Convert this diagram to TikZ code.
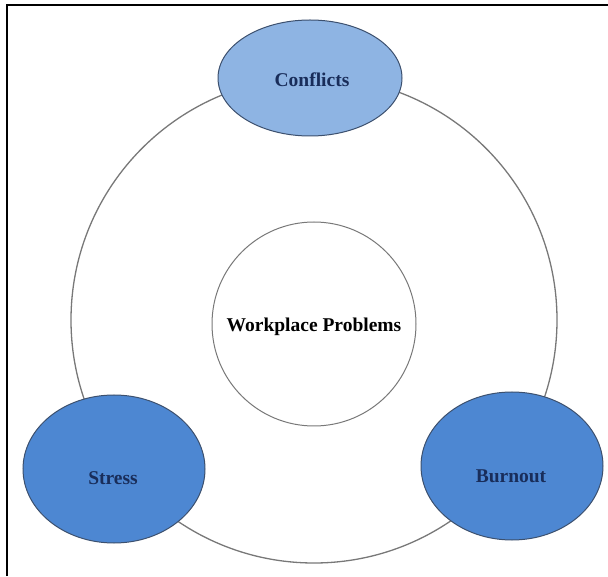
\documentclass[tikz,border=0pt]{standalone}
\usepackage{fontspec}
\setmainfont{Liberation Serif}
\usetikzlibrary{shapes.geometric}
\definecolor{lightblue}{RGB}{142,180,227}
\definecolor{midblue}{RGB}{77,135,210}
\definecolor{edgeblue}{RGB}{60,80,110}
\definecolor{navy}{RGB}{25,45,90}
\definecolor{ringgray}{RGB}{120,120,120}
\tikzset{
  bubble/.style={ellipse, draw=edgeblue, line width=1pt, inner sep=0pt, minimum width=182pt, minimum height=148pt},
  lbl/.style={font=\fontsize{19.5}{22}\selectfont\bfseries, text=navy, inner sep=0pt},
  ring/.style={circle, draw=ringgray, line width=1.3pt, inner sep=0pt}
}
\begin{document}
\begin{tikzpicture}[x=1pt,y=1pt]
\useasboundingbox (0,0) rectangle (608,576);
\draw[line width=2pt] (6.5,0) -- (6.5,570.5) -- (608,570.5);
\node[ring, minimum size=486pt] (outer) at (314,256) {};
\node[ring, line width=1pt, minimum size=204pt] (inner) at (314,252) {};
\node[lbl, text=black] (wp) at (314,249) {Workplace Problems};
\node[bubble, fill=lightblue, minimum width=184pt, minimum height=116pt] (conf) at (310,498) {};
\node[lbl] (conflbl) at (312,496) {Conflicts};
\node[bubble, fill=midblue] (stress) at (114,107) {};
\node[lbl] (stresslbl) at (113,98) {Stress};
\node[bubble, fill=midblue] (burn) at (512,110) {};
\node[lbl] (burnlbl) at (511,100) {Burnout};
\end{tikzpicture}
\end{document}
